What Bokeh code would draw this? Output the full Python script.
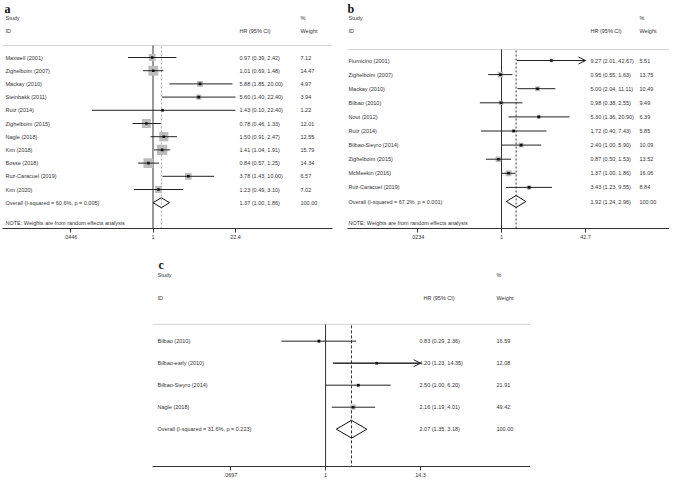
import math
from bokeh.plotting import figure
from bokeh.models import Range1d, LinearScale, FixedTicker, Arrow, OpenHead, Spacer
from bokeh.layouts import column, row
from bokeh.core.properties import value
from bokeh.embed import file_html
from bokeh.resources import INLINE

# ---------------- data ----------------
a_study = ["Maxwell (2001)", "Zighelboim (2007)", "Mackay (2010)", "Steinbakk (2011)", "Ruiz (2014)",
           "Zighelboim (2015)", "Nagle (2018)", "Kim (2018)", "Bosse (2018)", "Ruz-Caracuel (2019)", "Kim (2020)"]
a_hr = [0.97, 1.01, 5.88, 5.60, 1.43, 0.78, 1.50, 1.41, 0.84, 3.78, 1.23]
a_lo = [0.39, 0.69, 1.85, 1.40, 0.10, 0.46, 0.91, 1.04, 0.57, 1.43, 0.49]
a_hi = [2.42, 1.48, 20.00, 22.40, 22.40, 1.33, 2.47, 1.91, 1.25, 10.00, 3.10]
a_w = [7.12, 14.47, 4.97, 3.94, 1.22, 12.01, 12.55, 15.79, 14.34, 6.57, 7.02]
a_arrow = [False] * 11
a_overall = [1.37, 1.00, 1.86]
a_i2, a_p = 60.6, 0.005
a_ticks = [0.0446, 1, 22.4]
a_tick_labels = [".0446", "1", "22.4"]

b_study = ["Fiumicino (2001)", "Zighelboim (2007)", "Mackay (2010)", "Bilbao (2010)", "Nout (2012)", "Ruiz (2014)",
           "Bilbao-Sieyro (2014)", "Zighelboim (2015)", "McMeekin (2016)", "Ruz-Caracuel (2019)"]
b_hr = [9.27, 0.95, 5.00, 0.98, 5.30, 1.72, 2.40, 0.87, 1.37, 3.43]
b_lo = [2.01, 0.55, 2.04, 0.38, 1.36, 0.40, 1.00, 0.50, 1.00, 1.23]
b_hi = [42.67, 1.63, 11.11, 2.55, 20.90, 7.43, 5.90, 1.53, 1.86, 9.55]
b_w = [5.51, 13.75, 10.49, 9.49, 6.39, 5.85, 10.09, 13.52, 16.06, 8.84]
b_arrow = [True] + [False] * 9
b_overall = [1.92, 1.24, 2.96]
b_i2, b_p = 67.2, 0.001
b_ticks = [0.0234, 1, 42.7]
b_tick_labels = [".0234", "1", "42.7"]

c_study = ["Bilbao (2010)", "Bilbao-early (2010)", "Bilbao-Sieyro (2014)", "Nagle (2018)"]
c_hr = [0.83, 4.20, 2.50, 2.16]
c_lo = [0.29, 1.23, 1.00, 1.19]
c_hi = [2.36, 14.35, 6.20, 4.01]
c_w = [16.59, 12.08, 21.91, 49.42]
c_arrow = [False, True, False, False]
c_overall = [2.07, 1.35, 3.18]
c_i2, c_p = 31.6, 0.223
c_ticks = [0.0697, 1, 14.3]
c_tick_labels = [".0697", "1", "14.3"]

NOTE = "NOTE: Weights are from random effects analysis"

# ---------------- style ----------------
FONT = "Liberation Sans"
TXT = "#333333"
FS = "5.5px"


def panel(letter, study, hr, lo, hi, w, arrow, overall, i2, pv, ticks, tick_labels, L):
    t0, t1 = ticks[0], ticks[-1]
    p0, p1 = L["tick_px"]
    k = (p1 - p0) / math.log(t1 / t0)
    start = t0 * math.exp((L["fx0"] - p0) / k)
    end = t0 * math.exp((L["fx1"] - p0) / k)

    p = figure(width=L["w"], height=L["h"], x_axis_type="log",
               x_range=Range1d(start, end), y_range=Range1d(L["fy1"], L["fy0"]),
               output_backend="svg", toolbar_location=None, y_axis_location=None,
               min_border_left=L["bl"], min_border_right=L["br"], min_border_top=0,
               min_border_bottom=L["bb"])
    p.extra_x_ranges = {"px": Range1d(L["fx0"], L["fx1"])}
    p.extra_x_scales = {"px": LinearScale()}
    p.grid.visible = False
    p.outline_line_color = None
    p.background_fill_color = "white"
    p.border_fill_color = "white"

    ax = p.xaxis[0]
    ax.ticker = FixedTicker(ticks=ticks, minor_ticks=[])
    ax.major_label_overrides = {t: s for t, s in zip(ticks, tick_labels)}
    ax.axis_line_color = "#333333"
    ax.axis_line_width = 1
    ax.major_tick_line_color = "#333333"
    ax.major_tick_in = 0
    ax.major_tick_out = 4
    ax.minor_tick_line_color = None
    ax.major_label_standoff = 2
    ax.major_label_text_font = FONT
    ax.major_label_text_font_size = FS
    ax.major_label_text_color = TXT

    n = len(study)
    ys = [L["y0"] + i * L["dy"] for i in range(n)]
    oy = L["y0"] + n * L["dy"]

    # header line
    p.segment(x0=[L["fx0"]], x1=[L["fx1"]], y0=[L["line_y"]], y1=[L["line_y"]],
              x_range_name="px", line_color="#d4d4d4", line_width=1)
    # reference line at 1
    p.segment(x0=[1], x1=[1], y0=[L["line_y"]], y1=[L["fy1"]], line_color="#333333", line_width=1)
    # overall dashed line
    p.segment(x0=[overall[0]], x1=[overall[0]], y0=[L["line_y"] + 1], y1=[L["fy1"]],
              line_color=L["dash_color"], line_width=1, line_dash=L["dash"])

    # weight boxes
    sizes = [L["sq"] * math.sqrt(v) for v in w]
    p.scatter(x=hr, y=ys, size=sizes, marker="square", fill_color="#bcbcbc", line_color=None)
    # CI lines
    p.segment(x0=lo, x1=hi, y0=ys, y1=ys, line_color="#222222", line_width=1)
    for i in range(n):
        if arrow[i]:
            p.add_layout(Arrow(x_start=lo[i], x_end=hi[i], y_start=ys[i], y_end=ys[i],
                               line_color="#222222", line_width=1,
                               end=OpenHead(size=7, line_width=1, line_color="#222222")))
    # point estimates
    p.scatter(x=hr, y=ys, size=2.6, marker="square", fill_color="#111111", line_color=None)

    # overall diamond
    dh = L["dh"]
    p.patch(x=[overall[1], overall[0], overall[2], overall[0]], y=[oy, oy - dh, oy, oy + dh],
            fill_alpha=0, line_color="#111111", line_width=1)

    tk = dict(x_range_name="px", text_font=value(FONT), text_font_size=FS,
              text_baseline="middle", text_align="left", text_color=TXT)

    labels = study + [f"Overall  (I-squared = {i2:.1f}%, p = {pv:.3f})"]
    hrs = [f"{a:.2f} ({b:.2f}, {c:.2f})" for a, b, c in zip(hr + [overall[0]], lo + [overall[1]], hi + [overall[2]])]
    wts = [f"{v:.2f}" for v in w] + ["100.00"]
    yy = ys + [oy]
    p.text(x=[L["cs"]] * len(yy), y=yy, text=labels, **tk)
    p.text(x=[L["ch"]] * len(yy), y=yy, text=hrs, **tk)
    p.text(x=[L["cw"]] * len(yy), y=yy, text=wts, **tk)

    # headers
    p.text(x=[L["cs"], L["cs"], L["chh"], L["cw"], L["cw"]],
           y=[L["hy1"], L["hy2"], L["hy2"], L["hy1"], L["hy2"]],
           text=["Study", "ID", "HR (95% CI)", "%", "Weight"], **tk)
    if L.get("note_y") is not None:
        p.text(x=[L["cs"]], y=[L["note_y"]], text=[NOTE], **tk)

    # panel letter
    p.text(x=[L["lx"]], y=[L["ly"]], text=[letter], x_range_name="px",
           text_font=value("Liberation Serif"), text_font_style="bold", text_font_size="12px",
           text_baseline="alphabetic", text_align="left", text_color="#111111")
    return p


LA = dict(w=337, h=241, bl=2, br=5, bb=13, fx0=2, fx1=332, fy0=0, fy1=228,
          tick_px=(70, 235), y0=57, dy=13.2, line_y=45, hy1=17, hy2=30, note_y=222,
          cs=5, ch=239, chh=239, cw=300, lx=4, ly=8.5, sq=2.6, dh=5,
          dash="2 2", dash_color="#a8a8a8")
LB = dict(w=332, h=241, bl=10, br=0, bb=13, fx0=347, fx1=669, fy0=0, fy1=228,
          tick_px=(417, 585), y0=60, dy=14.1, line_y=49, hy1=17, hy2=30, note_y=222,
          cs=348, ch=590, chh=590, cw=639, lx=347, ly=8.5, sq=1.5, dh=6,
          dash="2 2", dash_color="#333333")
LC = dict(w=378, h=238, bl=0, br=0, bb=13, fx0=152, fx1=530, fy0=249, fy1=477,
          tick_px=(230, 420), y0=350, dy=22.3, line_y=333, hy1=283, hy2=306, note_y=None,
          cs=157, ch=419, chh=423, cw=496, lx=158, ly=272.5, sq=0.75, dh=9,
          dash="3 2", dash_color="#333333")

pa = panel("a", a_study, a_hr, a_lo, a_hi, a_w, a_arrow, a_overall, a_i2, a_p, a_ticks, a_tick_labels, LA)
pb = panel("b", b_study, b_hr, b_lo, b_hi, b_w, b_arrow, b_overall, b_i2, b_p, b_ticks, b_tick_labels, LB)
pc = panel("c", c_study, c_hr, c_lo, c_hi, c_w, c_arrow, c_overall, c_i2, c_p, c_ticks, c_tick_labels, LC)

layout = column(row(pa, pb, spacing=0), row(Spacer(width=152, height=238), pc, spacing=0), spacing=0)

open("out.html", "w").write(file_html(layout, INLINE))
